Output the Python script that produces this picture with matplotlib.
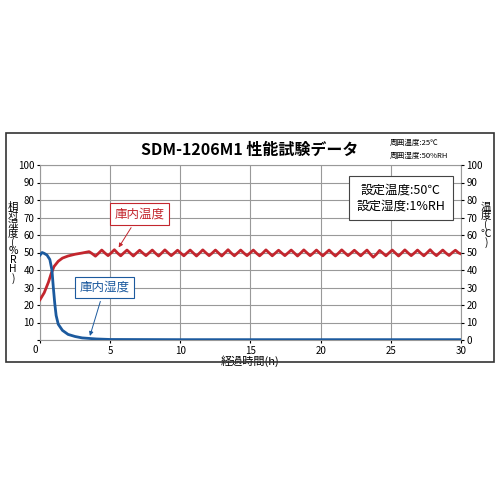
import matplotlib
matplotlib.use("Agg")
import matplotlib.pyplot as plt
import numpy as np

plt.rcParams['font.family'] = ['Noto Sans CJK JP', 'DejaVu Sans']

# rising part of chamber temperature (h, degC)
temp_rise_t = [0.0, 0.3, 0.6, 0.8, 1.0, 1.3, 1.6, 2.0, 2.5, 3.0, 3.5]
temp_rise_v = [23.0, 27.0, 33.0, 38.0, 42.0, 45.0, 46.8, 48.0, 49.0, 49.7, 50.5]

# oscillating part, read per quarter cycle from 3.725 h on
temp_osc_v = [
    49.3, 47.9, 49.6, 51.4, 49.7, 48.2, 49.8, 51.6, 49.7, 48.1, 49.8, 51.4,
    49.7, 48.0, 49.7, 51.3, 49.7, 48.2, 49.8, 51.4, 49.6, 48.0, 49.7, 51.5,
    49.8, 48.2, 49.7, 51.3, 49.7, 48.1, 49.8, 51.4, 49.7, 48.0, 49.7, 51.5,
    49.8, 48.2, 49.7, 51.4, 49.7, 48.0, 49.8, 51.6, 49.7, 48.1, 49.7, 51.4,
    49.7, 48.2, 49.8, 51.4, 49.6, 48.1, 49.7, 51.5, 49.8, 48.1, 49.7, 51.3,
    49.7, 48.2, 49.8, 51.4, 49.7, 48.0, 49.7, 51.5, 49.8, 48.2, 49.7, 51.4,
    49.7, 48.1, 49.8, 51.4, 49.6, 48.0, 49.7, 51.5, 49.8, 48.2, 49.7, 51.3,
    49.7, 48.1, 49.8, 51.4, 49.2, 47.3, 49.0, 51.2, 49.7, 48.1, 49.8, 51.4,
    49.7, 48.0, 49.7, 51.5, 49.8, 48.2, 49.7, 51.4, 49.7, 48.1, 49.8, 51.6,
    49.7, 48.2, 49.8, 51.4, 49.7, 48.3, 49.9, 51.3, 49.8, 49.0,
]
osc_step = 0.225

# chamber humidity (h, %RH)
hum_t = [0.0, 0.15, 0.3, 0.5, 0.7, 0.85, 0.95, 1.05, 1.15, 1.3, 1.6, 2.0, 2.5,
         3.0, 4.0, 5.0, 10.0, 20.0, 30.0]
hum_v = [48.5, 50.0, 49.5, 48.5, 46.0, 40.0, 30.0, 21.0, 14.0, 9.0, 5.5,
         3.2, 2.0, 1.2, 0.6, 0.3, 0.2, 0.2, 0.2]

xticks = [0, 5, 10, 15, 20, 25, 30]
yticks = list(range(0, 101, 10))

red = "#c3262e"
blue = "#1c5a9e"

osc_t = 3.5 + osc_step * np.arange(1, len(temp_osc_v) + 1)
temp_t = np.concatenate([temp_rise_t, osc_t])
temp_v = np.concatenate([temp_rise_v, temp_osc_v])

fig = plt.figure(figsize=(5, 5), dpi=100)
fig.patches.append(plt.Rectangle((0.012, 0.276), 0.976, 0.458, transform=fig.transFigure,
                                 fill=False, edgecolor="#333333", lw=1.2))
ax = fig.add_axes([0.08, 0.32, 0.842, 0.35])
ax.plot(temp_t, temp_v, color=red, lw=2.0, zorder=3)
ax.plot(hum_t, hum_v, color=blue, lw=2.0, zorder=3)

ax.set_xlim(0, 30)
ax.set_ylim(0, 100)
ax.set_xticks(xticks)
ax.set_yticks(yticks)
ax.set_yticklabels([str(v) if v else "" for v in yticks])
ax.set_xticklabels([str(v) if v else "" for v in xticks])
ax.grid(True, color="#999999", lw=0.8)
ax.tick_params(labelsize=7, length=2, pad=2)
for s in ax.spines.values():
    s.set_color("#999999")
ax.text(-0.012, -0.03, "0", transform=ax.transAxes, fontsize=7, ha="center", va="top")

ax2 = ax.twinx()
ax2.set_ylim(0, 100)
ax2.set_yticks(yticks)
ax2.tick_params(labelsize=7, length=2, pad=2)
for s in ax2.spines.values():
    s.set_visible(False)

ax.set_xlabel("経過時間(h)", fontsize=8, labelpad=0)
fig.text(0.026, 0.515, "相\n対\n湿\n度\n(\n%\nR\nH\n)", fontsize=7.5, ha="center",
         va="center", linespacing=0.85)
fig.text(0.972, 0.55, "温\n度\n(\n℃\n)", fontsize=7.5, ha="center", va="center",
         linespacing=0.85)

fig.text(0.5, 0.70, "SDM-1206M1 性能試験データ", fontsize=11.5, fontweight="bold",
         ha="center", va="center")
fig.text(0.78, 0.715, "周囲温度:25℃", fontsize=5.5, va="center")
fig.text(0.78, 0.688, "周囲湿度:50%RH", fontsize=5.5, va="center")

ax.text(25.7, 81, "設定温度:50℃\n設定湿度:1%RH", fontsize=9, ha="center", va="center",
        linespacing=1.3, zorder=5,
        bbox=dict(boxstyle="square,pad=0.6", fc="white", ec="#444444", lw=0.8))
ax.annotate("庫内温度", xy=(5.5, 51.5), xytext=(7.1, 72), fontsize=9, color=red,
            ha="center", va="center", zorder=5,
            bbox=dict(boxstyle="square,pad=0.35", fc="white", ec=red, lw=0.8),
            arrowprops=dict(arrowstyle="-|>", color=red, lw=0.7, mutation_scale=6))
ax.annotate("庫内湿度", xy=(3.5, 0.8), xytext=(4.6, 30), fontsize=9, color=blue,
            ha="center", va="center", zorder=5,
            bbox=dict(boxstyle="square,pad=0.35", fc="white", ec=blue, lw=0.8),
            arrowprops=dict(arrowstyle="-|>", color=blue, lw=0.7, mutation_scale=6))

fig.savefig("out.png", dpi=100)
plt.close(fig)
